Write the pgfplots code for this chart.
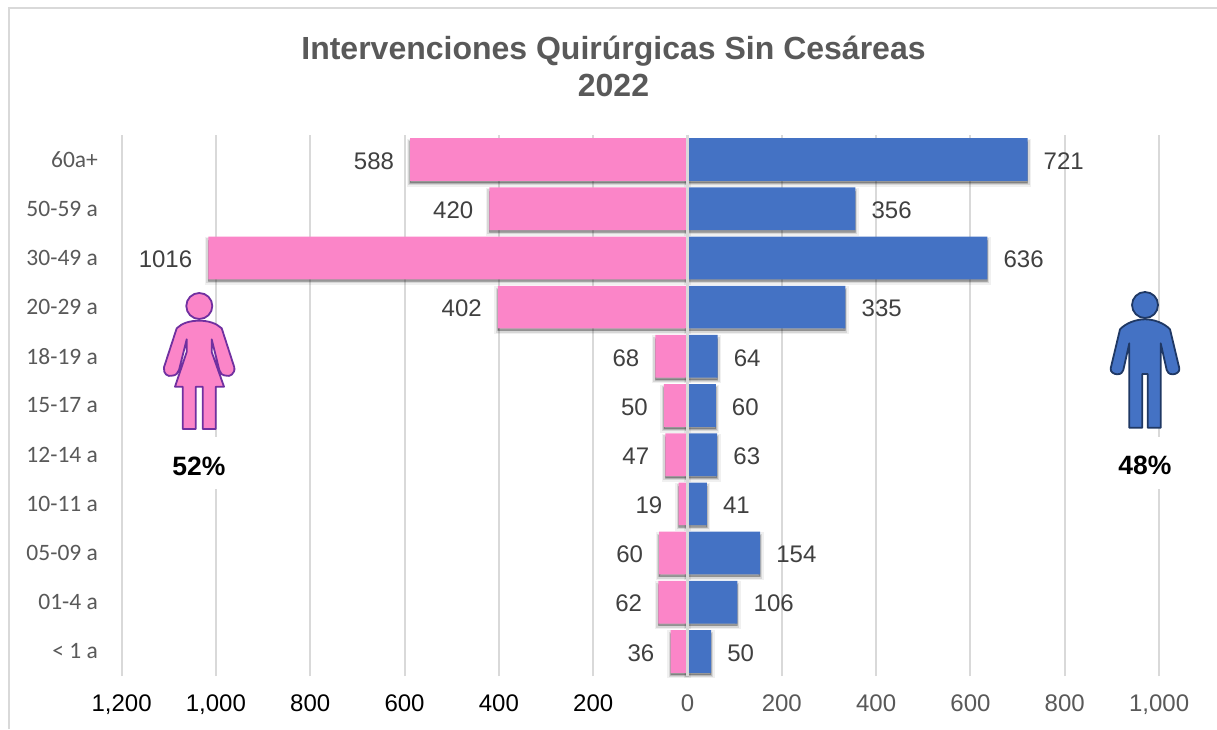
\documentclass[border=0pt]{standalone}
\usepackage{fontspec}
\setmainfont{Liberation Sans}
\newfontfamily\carlito{Carlito}
\usepackage{pgfplots}
\usepackage{pgfplotstable}
\pgfplotsset{compat=1.18}
\definecolor{pinkbar}{HTML}{FB85C8}
\definecolor{bluebar}{HTML}{4472C4}
\definecolor{gridc}{HTML}{D9D9D9}
\definecolor{txt}{HTML}{595959}
\definecolor{lab}{HTML}{404040}
\definecolor{womanline}{HTML}{7030A0}
\definecolor{manline}{HTML}{1F3864}
\pgfplotstableread{
x y label
-36 0 36
-62 1 62
-60 2 60
-19 3 19
-47 4 47
-50 5 50
-68 6 68
-402 7 402
-1016 8 1016
-420 9 420
-588 10 588
}\women
\pgfplotstableread{
x y label
50 0 50
106 1 106
154 2 154
41 3 41
63 4 63
60 5 60
64 6 64
335 7 335
636 8 636
356 9 356
721 10 721
}\men
\pgfplotsset{
  shad/.style={xbar, forget plot, fill=black, draw=black, bar shift=-3pt},
}
\begin{document}
\begin{tikzpicture}[x=1pt,y=1pt]
\useasboundingbox (0,0) rectangle (1217,729);
\fill[white] (0,0) rectangle (1217,729);
\draw[gridc, line width=2pt] (8.5,0) -- (8.5,720.5) -- (1217,720.5);
\begin{axis}[
  at={(121.6pt,53pt)}, anchor=south west,
  scale only axis, width=1095pt, height=541pt,
  xmin=-1200, xmax=1122, ymin=-0.5, ymax=10.5,
  xbar, bar width=42.7pt,
  axis line style={draw=none},
  major tick length=0pt,
  xmajorgrids, major grid style={gridc, line width=2pt},
  xtick={-1200,-1000,-800,-600,-400,-200,0,200,400,600,800,1000},
  xticklabels={{\textcolor{black}{1,200}},{\textcolor{black}{1,000}},{\textcolor{black}{800}},{\textcolor{black}{600}},{\textcolor{black}{400}},{\textcolor{black}{200}},0,200,400,600,800,{1,000}},
  xticklabel style={font=\fontsize{24}{28}\selectfont, text=txt, inner sep=0pt, anchor=center, text height=17pt, text depth=0pt, yshift=-27pt},
  ytick={0,...,10},
  yticklabels={< 1 a,01-4 a,05-09 a,10-11 a,12-14 a,15-17 a,18-19 a,20-29 a,30-49 a,50-59 a,60a+},
  yticklabel style={font=\carlito\fontsize{23.5}{27}\selectfont, text=txt, inner sep=0pt, anchor=east, xshift=-23.5pt},
  clip=false,
]
% soft shadows under the bars
\addplot[shad, bar width=41pt, line width=7pt, fill opacity=0.06, draw opacity=0.06] table[x=x,y=y] {\women};
\addplot[shad, bar width=41pt, line width=4pt, fill opacity=0.10, draw opacity=0.10] table[x=x,y=y] {\women};
\addplot[shad, bar width=41pt, line width=1.5pt, fill opacity=0.16, draw opacity=0.14] table[x=x,y=y] {\women};
\addplot[shad, bar width=41pt, line width=7pt, fill opacity=0.06, draw opacity=0.06] table[x=x,y=y] {\men};
\addplot[shad, bar width=41pt, line width=4pt, fill opacity=0.10, draw opacity=0.10] table[x=x,y=y] {\men};
\addplot[shad, bar width=41pt, line width=1.5pt, fill opacity=0.16, draw opacity=0.14] table[x=x,y=y] {\men};
% bars
\addplot[xbar, forget plot, fill=pinkbar, draw=none, bar shift=0pt,
  point meta=explicit symbolic, nodes near coords,
  every node near coord/.append style={anchor=east, inner sep=0pt, xshift=-16pt, yshift=-1.5pt, text=lab, font=\fontsize{24}{28}\selectfont}]
  table[x=x,y=y,meta=label] {\women};
\addplot[xbar, forget plot, fill=bluebar, draw=none, bar shift=0pt,
  point meta=explicit symbolic, nodes near coords,
  every node near coord/.append style={anchor=west, inner sep=0pt, xshift=16pt, yshift=-1.5pt, text=lab, font=\fontsize{24}{28}\selectfont}]
  table[x=x,y=y,meta=label] {\men};
\end{axis}
\begin{scope}[shift={(0,729)}, y=-1pt, x=1pt]
\draw[gridc, line width=2.6pt] (687.4,135) -- (687.4,676);
\node[font=\bfseries\fontsize{32}{37}\selectfont, text=txt, align=center, inner sep=0pt] at (613.5,66) {Intervenciones Quirúrgicas Sin Cesáreas\\2022};
% text boxes interrupting the gridlines
\fill[white] (170,437) rectangle (230,489);
\fill[white] (1115,437) rectangle (1178,489);
\node[font=\bfseries\fontsize{26.5}{30}\selectfont, text=black, inner sep=0pt] at (199,466) {52\%};
\node[font=\bfseries\fontsize{26.5}{30}\selectfont, text=black, inner sep=0pt] at (1145,465) {48\%};
% woman
\begin{scope}[fill=pinkbar, draw=womanline, line width=1.8pt, line join=round]
\filldraw (199.3,306) circle[radius=13];
\filldraw (199.3,320.7) .. controls (208,320.7) and (216,323) .. (221.7,328.3)
 -- (234.3,367.3) .. controls (235.5,374) and (229,377) .. (226.7,375.7)
 .. controls (222,375.7) and (220,373) .. (219.3,370)
 -- (211.7,339.3) -- (211.7,352) -- (224,386.7) -- (215.7,386.7) -- (215.7,429) -- (202.7,429) -- (202.7,386.7)
 -- (195.7,386.7) -- (195.7,429) -- (182.7,429) -- (182.7,386.7) -- (175,386.7) -- (186.7,352) -- (186.7,339.3)
 -- (179,370) .. controls (178,373) and (176,375.7) .. (171.7,375.7)
 .. controls (168,377) and (163,374) .. (164,367.3)
 -- (176.7,328.3) .. controls (182,323) and (190,320.7) .. (199.3,320.7) -- cycle;
\end{scope}
% man
\begin{scope}[fill=bluebar, draw=manline, line width=1.8pt, line join=round]
\filldraw (1145,305) circle[radius=13];
\filldraw (1145,319.3) .. controls (1154,319.3) and (1164,323) .. (1170,329.3)
 -- (1179.3,368.3) .. controls (1180,372) and (1176,374.3) .. (1172.7,374.3)
 .. controls (1169,374.3) and (1167,372) .. (1166.7,370)
 -- (1160.7,343.3) -- (1160.7,427.7) -- (1147.7,427.7) -- (1147.7,374) -- (1142.3,374) -- (1142.3,427.7) -- (1129.3,427.7) -- (1129.3,343.3)
 -- (1123.3,370) .. controls (1123,372) and (1121,374.3) .. (1117.3,374.3)
 .. controls (1114,374.3) and (1110,372) .. (1110.7,368.3)
 -- (1120,329.3) .. controls (1126,323) and (1136,319.3) .. (1145,319.3) -- cycle;
\end{scope}
\end{scope}
\end{tikzpicture}
\end{document}
